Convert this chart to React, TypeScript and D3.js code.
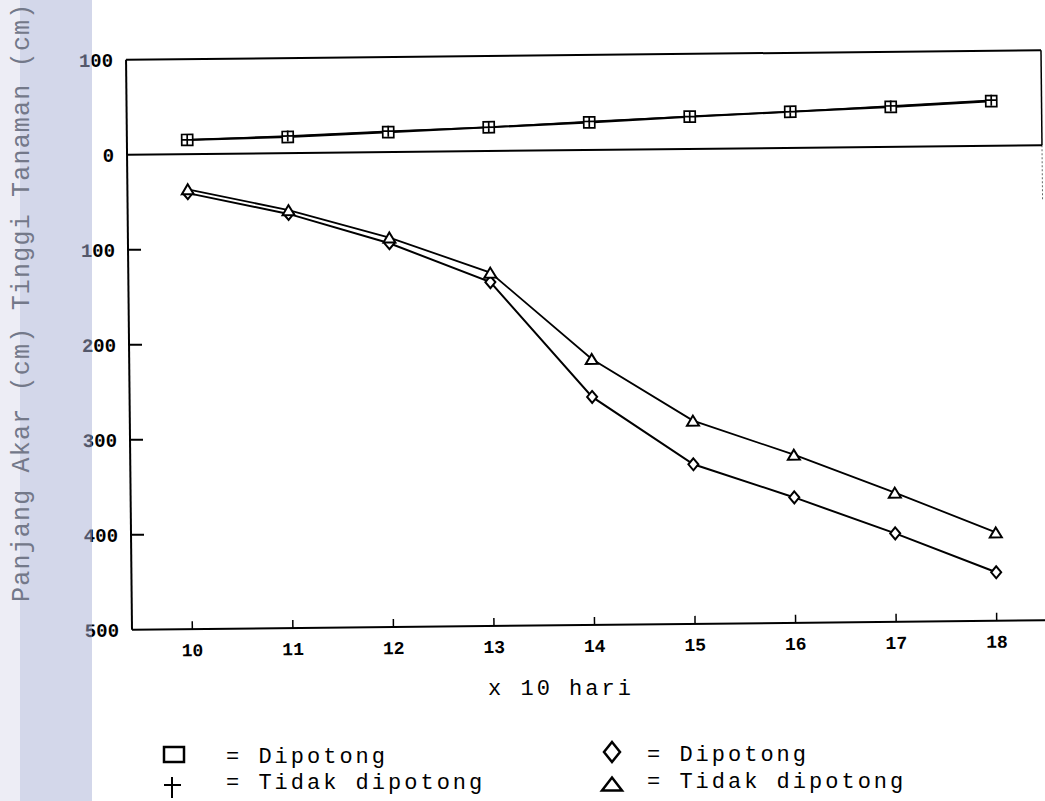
import * as d3 from 'd3';

// x 10 hari
const days = [10, 11, 12, 13, 14, 15, 16, 17, 18];
// Tinggi Tanaman (cm), upward
const tinggiDipotong = [15, 17, 21, 25, 29, 34, 38, 42, 47];
const tinggiTidak = [15, 18, 22, 25, 30, 34, 38, 43, 48];
// Panjang Akar (cm), drawn downward
const akarDipotong = [41, 64, 96, 138, 260, 332, 368, 407, 449];
const akarTidak = [37, 60, 90, 128, 220, 286, 323, 364, 407];

const yTickValues = [100, 0, -100, -200, -300, -400, -500];
const yInnerTicks = [-100, -200, -300, -400];

const W = 1045;
const H = 801;
const mono = '"Liberation Mono", "DejaVu Sans Mono", monospace';

const App = () => {
  const x = d3.scaleLinear().domain([9.4, 18.5]).range([129, 1044]);
  const y = d3.scaleLinear().domain([100, -500]).range([55, 625]);

  const line = d3
    .line<number>()
    .x((_, i) => x(days[i]))
    .y((d) => y(d));

  const neg = (arr: number[]) => arr.map((v) => -v);

  const [x0, x1] = x.range();
  const yTop = y(100);
  const yZero = y(0);
  const yBot = y(-500);

  const square = (cx: number, cy: number, s: number) =>
    `M${cx - s},${cy - s}H${cx + s}V${cy + s}H${cx - s}Z`;
  const plus = (cx: number, cy: number, s: number) =>
    `M${cx - s},${cy}H${cx + s}M${cx},${cy - s}V${cy + s}`;
  const diamond = (cx: number, cy: number, w: number, h: number) =>
    `M${cx},${cy - h}L${cx + w},${cy}L${cx},${cy + h}L${cx - w},${cy}Z`;
  const triangle = (cx: number, cy: number, w: number, h: number) =>
    `M${cx - w},${cy + h / 2}L${cx + w},${cy + h / 2}L${cx},${cy - h / 2}Z`;

  return (
    <svg
      width={W}
      height={H}
      style={{ position: 'absolute', left: 0, top: 0, background: '#fff' }}
    >
      <rect width={W} height={H} fill="#fff" />

      <g transform="rotate(-0.6, 586, 340)" stroke="#000" fill="none">
        {/* frame */}
        <line x1={x0} x2={x1} y1={yTop} y2={yTop} strokeWidth={2} />
        <line x1={x0} x2={x0} y1={yTop} y2={yBot} strokeWidth={2} />
        <line x1={x0} x2={x1} y1={yZero} y2={yZero} strokeWidth={2} />
        <line x1={x0} x2={x1} y1={yBot} y2={yBot} strokeWidth={2} />
        <line x1={x1} x2={x1} y1={yTop} y2={yZero} strokeWidth={1.5} />
        <line x1={x1} x2={x1} y1={yZero} y2={yZero + 55} strokeWidth={1} strokeDasharray="2 2" opacity={0.6} />

        {yInnerTicks.map((t) => (
          <line key={t} x1={x0} x2={x0 + 13} y1={y(t)} y2={y(t)} strokeWidth={2} />
        ))}
        {days.map((d) => (
          <line key={d} x1={x(d)} x2={x(d)} y1={yBot} y2={yBot - 8} strokeWidth={1.5} />
        ))}

        {/* series */}
        <path d={line(tinggiDipotong) ?? ''} strokeWidth={2.2} />
        <path d={line(tinggiTidak) ?? ''} strokeWidth={1.5} />
        <path d={line(neg(akarDipotong)) ?? ''} strokeWidth={2} />
        <path d={line(neg(akarTidak)) ?? ''} strokeWidth={1.8} />

        {days.map((d, i) => (
          <g key={d}>
            <path d={square(x(d), y(tinggiDipotong[i]), 5.5)} strokeWidth={1.7} fill="#fff" />
            <path d={plus(x(d), y(tinggiTidak[i]), 5.5)} strokeWidth={1.7} />
            <path d={diamond(x(d), y(-akarDipotong[i]), 5, 6)} strokeWidth={2} fill="#fff" />
            <path d={triangle(x(d), y(-akarTidak[i]), 6, 10)} strokeWidth={2} fill="#fff" />
          </g>
        ))}

        {/* tick labels */}
        <g stroke="none" fill="#000" fontFamily={mono}>
          {days.map((d) => (
            <text key={d} x={x(d)} y={yBot + 27} fontSize={18} fontWeight="bold" textAnchor="middle">
              {d}
            </text>
          ))}
          {yTickValues.map((t) => (
            <text
              key={t}
              x={116}
              y={y(t)}
              dy="0.35em"
              fontSize={19}
              fontWeight="bold"
              textAnchor="end"
            >
              {Math.abs(t)}
            </text>
          ))}
        </g>
      </g>

      {/* scanned side strip */}
      <rect x={0} y={0} width={20} height={H} fill="#dcdcec" opacity={0.5} />
      <rect x={20} y={0} width={72} height={H} fill="#a8b0d6" opacity={0.5} />
      <text
        transform="translate(29, 602) rotate(-90)"
        fontFamily={mono}
        fontSize={25}
        letterSpacing={1.2}
        fill="#737889"
        style={{ whiteSpace: 'pre' }}
      >
        Panjang Akar (cm) Tinggi Tanaman (cm)
      </text>

      <text
        x={561}
        y={695}
        fontFamily={mono}
        fontSize={22}
        letterSpacing={3}
        textAnchor="middle"
        fill="#000"
        style={{ whiteSpace: 'pre' }}
      >
        x 10 hari
      </text>

      {/* legend */}
      <g stroke="#000" fill="none" strokeWidth={2.5}>
        <rect x={164} y={747} width={20} height={15} />
        <path d="M164,785H181M172,777V798" strokeWidth={2} />
        <path d={diamond(612, 752, 8, 10)} />
        <path d={triangle(612, 784, 10, 13)} />
      </g>
      <g fontFamily={mono} fontSize={22} letterSpacing={3} fill="#000" style={{ whiteSpace: 'pre' }}>
        <text x={226} y={763}>= Dipotong</text>
        <text x={226} y={789}>= Tidak dipotong</text>
        <text x={647} y={761}>= Dipotong</text>
        <text x={647} y={788}>= Tidak dipotong</text>
      </g>
    </svg>
  );
};

export default App;
